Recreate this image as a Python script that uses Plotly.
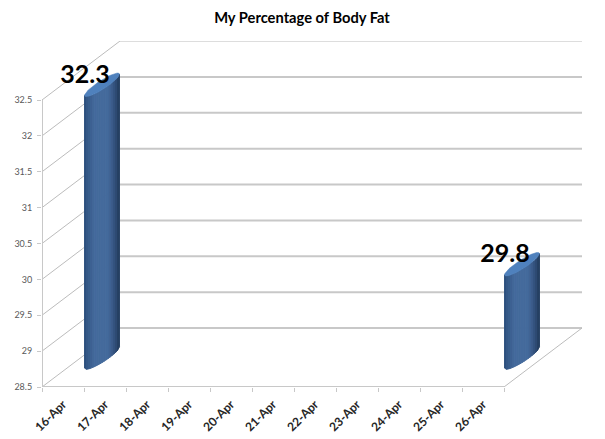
import numpy as np
import plotly.graph_objects as go

categories = ["16-Apr", "17-Apr", "18-Apr", "19-Apr", "20-Apr", "21-Apr",
              "22-Apr", "23-Apr", "24-Apr", "25-Apr", "26-Apr"]
bar_categories = ["16-Apr", "26-Apr"]
bar_values = [32.3, 29.8]
value_ticks = [28.5, 29, 29.5, 30, 30.5, 31, 31.5, 32, 32.5]
value_tick_labels = ["28.5", "29", "29.5", "30", "30.5", "31", "31.5", "32", "32.5"]
title_text = "My Percentage of Body Fat"

# geometry of the oblique projection, in pixels
W, H = 605, 439
LEFT, BOTTOM_PX = 41.7, 387.0
CAT_PX, UNIT_PX = 42.0, 71.75
DEPTH_X_PX, DEPTH_Y_PX = 78.0, 59.0
RIGHT_PX, TOP_PX = 581.7, 41.0
dx_d = DEPTH_X_PX / CAT_PX
dy_d = DEPTH_Y_PX / UNIT_PX
base = min(value_ticks)
top = max(value_ticks)
n = len(categories)
x_lo, x_hi = -0.5, -0.5 + (RIGHT_PX - LEFT) / CAT_PX
y_lo, y_hi = base, base + (BOTTOM_PX - TOP_PX) / UNIT_PX

GRID = "#c8c8c8"
THIN = "#bcbcbc"
fig = go.Figure()


def line(xs, ys, color=GRID, width=1.0):
    fig.add_trace(go.Scatter(x=xs, y=ys, mode="lines", hoverinfo="skip",
                             showlegend=False, cliponaxis=False,
                             line=dict(color=color, width=width)))


# walls
for v in value_ticks:
    line([-0.5, -0.5 + dx_d], [v, v + dy_d], THIN, 1.0)
    wide = 1.0 if v == top else 2.0
    line([-0.5 + dx_d, n - 0.5 + dx_d], [v + dy_d, v + dy_d], GRID if v != top else THIN, wide)
line([n - 0.5, n - 0.5 + dx_d], [base, base + dy_d], THIN, 1.0)
line([-0.5, -0.5], [base, top], GRID, 2.0)
line([-0.5, n - 0.5], [base, base], GRID, 2.0)

# cylinders
AX, AY = 17.0, 11.5      # long half-axis of the skewed cap, px (right, up)
BX, BY = -4.0, 2.5       # short half-axis, px
LIGHT = np.array([68, 106, 156])
DARK_L = np.array([44, 78, 122])
DARK_R = np.array([36, 60, 94])


def shade(s):
    if s < 0.45:
        f = min(1.0, s / 0.3)
        c = DARK_L + (LIGHT - DARK_L) * f ** 0.8
    else:
        f = max(0.0, (s - 0.66) / 0.34)
        c = LIGHT + (DARK_R - LIGHT) * f ** 1.4
    return "rgb(%d,%d,%d)" % tuple(c)


A = float(np.hypot(AX, BX))
phi = float(np.arctan2(BX, AX))
edge_x = np.linspace(-A, A, 19)
angle = np.arccos(edge_x / A)
y_plus = AY * np.cos(phi + angle) + BY * np.sin(phi + angle)
y_minus = AY * np.cos(phi - angle) + BY * np.sin(phi - angle)
edge_y = np.minimum(y_plus, y_minus)   # lower rim of the cap

tt = np.linspace(0, 2 * np.pi, 73)
cap_x = (AX * np.cos(tt) + BX * np.sin(tt)) / CAT_PX
cap_y = (AY * np.cos(tt) + BY * np.sin(tt)) / UNIT_PX

for cat, val in zip(bar_categories, bar_values):
    xc = categories.index(cat) + dx_d / 2
    y_top = val + dy_d / 2
    y_bot = base + dy_d / 2
    xs = xc + edge_x / CAT_PX
    ys = edge_y / UNIT_PX
    for k in range(len(xs) - 1):
        s = (k + 0.5) / (len(xs) - 1)
        col = shade(s)
        fig.add_trace(go.Scatter(
            x=[xs[k], xs[k + 1], xs[k + 1], xs[k], xs[k]],
            y=[y_top + ys[k], y_top + ys[k + 1], y_bot + ys[k + 1], y_bot + ys[k], y_top + ys[k]],
            mode="lines", fill="toself", fillcolor=col, hoverinfo="skip", showlegend=False,
            cliponaxis=False, line=dict(color=col, width=1.0)))
    fig.add_trace(go.Scatter(
        x=xc + cap_x, y=y_top + cap_y, mode="lines", fill="toself", fillcolor="#4f81bd",
        hoverinfo="skip", showlegend=False, cliponaxis=False,
        line=dict(color="#4f81bd", width=0.5)))

# data labels
LABEL_DX_PX, LABEL_DY_PX = 22.0, 38.0
fig.add_trace(go.Scatter(
    x=[categories.index(c) + LABEL_DX_PX / CAT_PX for c in bar_categories],
    y=[v + LABEL_DY_PX / UNIT_PX for v in bar_values],
    text=["%.1f" % v for v in bar_values],
    mode="text", textposition="middle center", hoverinfo="skip", showlegend=False,
    cliponaxis=False,
    textfont=dict(family="Lato", size=25, color="#000000", weight="bold")))

fig.update_layout(
    width=W, height=H, paper_bgcolor="white", plot_bgcolor="white",
    margin=dict(l=LEFT, r=W - RIGHT_PX, t=TOP_PX, b=H - BOTTOM_PX, pad=0, autoexpand=False),
    title=dict(text="<b>%s</b>" % title_text, x=302 / W, xanchor="center", y=1 - 18 / H, yanchor="middle",
               font=dict(family="Lato", size=14.7, color="#000000")),
    xaxis=dict(range=[x_lo, x_hi], tickmode="array", tickvals=list(range(n)), ticktext=categories,
               tickangle=-45, ticks="", showgrid=False, zeroline=False, showline=False,
               ticklabelstandoff=7,
               tickfont=dict(family="Lato", size=12, color="#262626", weight="bold"),
               minor=dict(tickvals=[i - 0.5 for i in range(n + 1)], ticks="outside", ticklen=4,
                          tickcolor=GRID, tickwidth=1, showgrid=False)),
    yaxis=dict(range=[y_lo, y_hi], tickmode="array", tickvals=value_ticks, ticktext=value_tick_labels,
               ticks="outside", ticklen=4, tickcolor=GRID, tickwidth=1, showgrid=False,
               zeroline=False, showline=False, ticklabelstandoff=3,
               tickfont=dict(family="Lato", size=9, color="#595959")),
)

fig.write_html("out.html", config={"displayModeBar": False},
               post_script="document.body.style.margin='0';")
